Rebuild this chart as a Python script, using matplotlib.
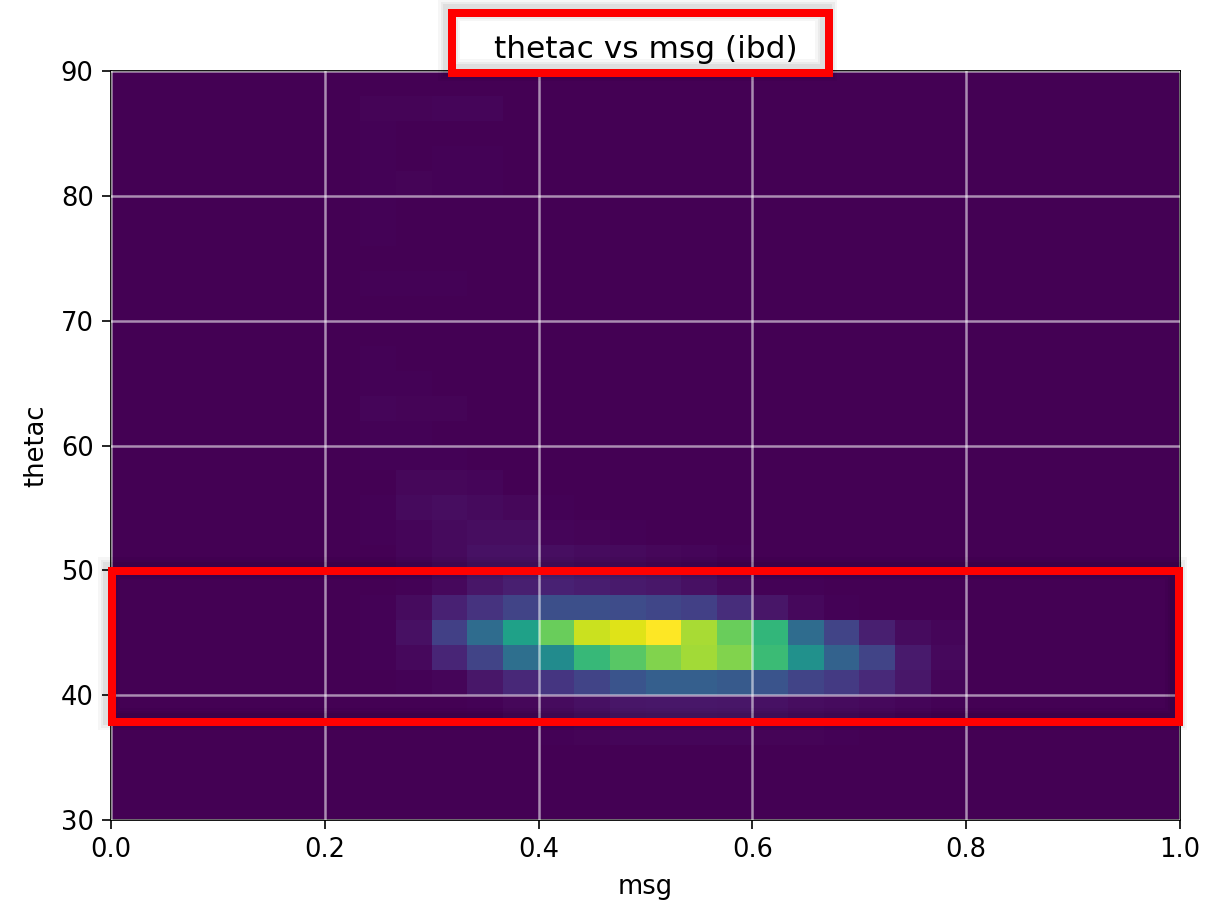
import numpy as np
import matplotlib
matplotlib.use("Agg")
import matplotlib.pyplot as plt
from matplotlib.patches import Rectangle

# ---- data: 2D histogram counts, msg (x, 30 bins on [0,1]) vs thetac (y, 2-deg bins on [30,90]) ----
msg_range = (0.0, 1.0)
n_msg_bins = 30
theta_edges = list(range(30, 92, 2))

# each band: (lower thetac edge, first msg bin index, counts in consecutive msg bins)
band_36 = (36, 12, [5, 10, 15, 15, 15, 15, 10, 10, 5])
band_38 = (38, 9, [3, 6, 18, 30, 40, 55, 60, 60, 55, 45, 35, 28, 20, 12, 6])
band_40 = (40, 8, [6, 12, 60, 110, 155, 200, 260, 300, 300, 280, 260, 200, 170, 115, 60, 12])
band_42 = (42, 7, [5, 20, 105, 200, 360, 480, 670, 740, 810, 860, 810, 680, 500, 310, 200, 70, 20])
band_44 = (44, 7, [5, 40, 190, 350, 570, 770, 920, 950, 1000, 870, 770, 660, 350, 200, 85, 30, 12])
band_46 = (46, 7, [5, 30, 90, 145, 200, 240, 240, 230, 210, 190, 125, 55, 20, 6])
band_48 = (48, 8, [6, 20, 55, 85, 90, 80, 70, 60, 40, 20, 6, 5])
band_50 = (50, 7, [3, 12, 25, 45, 45, 38, 30, 25, 18, 12, 6])
band_52 = (52, 7, [6, 12, 25, 32, 32, 12, 9, 6])
band_54 = (54, 7, [6, 25, 32, 25, 18, 6])
band_56 = (56, 7, [3, 18, 18, 12])
band_58 = (58, 7, [5, 5, 5])
band_60 = (60, 7, [5, 5])
band_62 = (62, 7, [15, 10, 10])
band_64 = (64, 7, [5, 5])
band_66 = (66, 7, [5])
band_68 = (68, 7, [3, 3])
band_70 = (70, 7, [3, 3, 3])
band_72 = (72, 7, [5, 5, 5])
band_76 = (76, 7, [5])
band_78 = (78, 7, [5])
band_80 = (80, 7, [5, 8, 5, 5])
band_82 = (82, 7, [5, 0, 5, 5])
band_84 = (84, 7, [5])
band_86 = (86, 7, [10, 10, 15, 15])

bands = [band_36, band_38, band_40, band_42, band_44, band_46, band_48, band_50,
         band_52, band_54, band_56, band_58, band_60, band_62, band_64, band_66,
         band_68, band_70, band_72, band_76, band_78, band_80, band_82, band_84, band_86]

x_edges = np.linspace(msg_range[0], msg_range[1], n_msg_bins + 1)
y_edges = np.array(theta_edges, dtype=float)
H = np.zeros((len(y_edges) - 1, n_msg_bins))
for lo, start, vals in bands:
    j = theta_edges.index(lo)
    H[j, start:start + len(vals)] = vals

# ---- figure ----
W, Hpx = 1222, 902
fig = plt.figure(figsize=(W / 100, Hpx / 100), dpi=100)
ax = fig.add_axes([111 / W, 1 - 820 / Hpx, (1180 - 111) / W, (820 - 71) / Hpx])

ax.pcolormesh(x_edges, y_edges, H, cmap="viridis", vmin=0, vmax=H.max())
ax.set_xlim(0, 1)
ax.set_ylim(30, 90)
ax.set_xticks([0.0, 0.2, 0.4, 0.6, 0.8, 1.0])
ax.set_yticks([30, 40, 50, 60, 70, 80, 90])
ax.grid(True, color="white", alpha=0.55, linewidth=1.8)
ax.set_axisbelow(False)
ax.tick_params(labelsize=18.5, length=6.5, width=1.2, pad=6)
for s in ax.spines.values():
    s.set_linewidth(1.3)
ax.set_xlabel("msg", fontsize=18.5, labelpad=8)
ax.set_ylabel("thetac", fontsize=18.5, labelpad=8)
ax.set_title("thetac vs msg (ibd)", fontsize=22.5, pad=9)


def px_rect(x0, y0, x1, y1, **kw):
    return Rectangle((x0 / W, 1 - y1 / Hpx), (x1 - x0) / W, (y1 - y0) / Hpx,
                     transform=fig.transFigure, fill=False, **kw)


def boxed(x0, y0, x1, y1):
    # soft shadow, slightly up-left
    for lw, a in [(22, 0.035), (17, 0.045), (12, 0.055)]:
        fig.add_artist(px_rect(x0 - 3, y0 - 3, x1 - 3, y1 - 3, edgecolor="black",
                               linewidth=lw * 0.72, alpha=a, zorder=9))
    fig.add_artist(px_rect(x0, y0, x1, y1, edgecolor="#ff0000", linewidth=8 * 0.72,
                           zorder=10, joinstyle="miter"))


boxed(452, 13, 829, 73)
boxed(112, 571, 1179, 722)

fig.savefig("out.png", dpi=100)
